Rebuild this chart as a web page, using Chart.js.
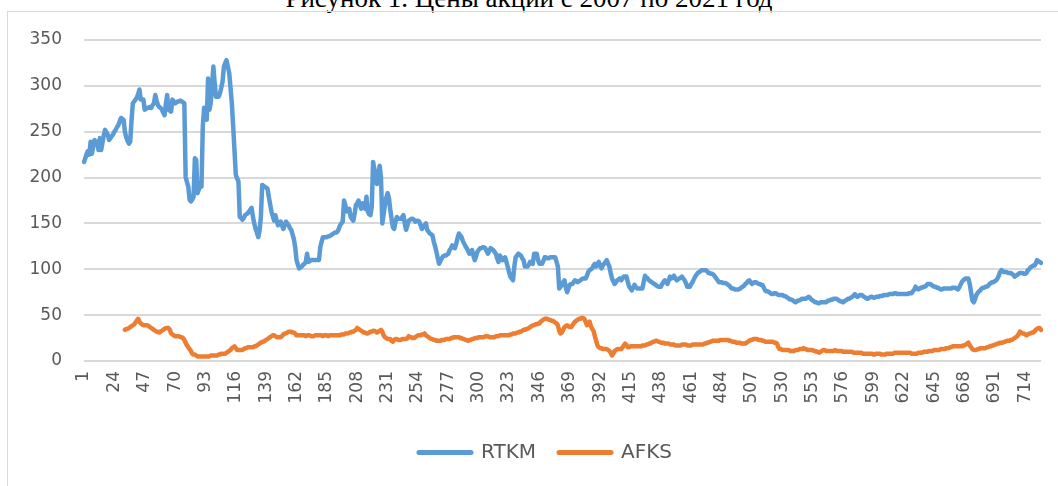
<!DOCTYPE html>
<html>
<head>
<meta charset="utf-8">
<script src="https://cdn.jsdelivr.net/npm/chart.js@4.4.1/dist/chart.umd.min.js"></script>
<style>
  html, body { margin: 0; padding: 0; background: #fff; overflow: hidden; }
  #wrap { position: relative; width: 1058px; height: 486px; overflow: hidden; }
  #frame { position: absolute; left: 7px; top: 11px; width: 1200px; height: 600px; border: 1px solid #d9d9d9; box-sizing: border-box; }
  #caption { position: absolute; left: 0; width: 1058px; top: -15px; text-align: center; font-family: "Liberation Serif", "Times New Roman", serif; font-size: 27px; line-height: 1; color: #000; white-space: nowrap; }
  #chart { position: absolute; left: 0; top: 0; }
</style>
</head>
<body>
<div id="wrap">
  <div id="caption">Рисунок 1. Цены акций с 2007 по 2021 год</div>
  <div id="frame"></div>
  <canvas id="chart" width="1058" height="486"></canvas>
</div>
<script>
var pointCount = 726;
var labelStep = 23;
var yTicks = [0, 50, 100, 150, 200, 250, 300, 350];
var seriesNames = ['RTKM', 'AFKS'];
var seriesColors = ['#5b9bd5', '#ed7d31'];

var rtkm = [
217,221,226,229,225,239,226,234,241,238,
239,230,243,230,238,246,252,249,247,241,
243,245,247,250,252,255,257,261,265,264,
263,250,244,240,237,239,262,281,283,285,
287,291,296,285,285,285,274,275,276,276,
277,276,279,281,290,284,279,277,276,274,
271,268,280,290,274,273,272,285,283,281,
282,283,283,284,283,282,281,201,195,190,
176,174,176,179,221,219,183,187,194,190,
256,276,270,263,308,274,281,300,321,303,
288,288,288,292,298,305,321,325,328,321,
314,298,281,256,230,203,199,196,157,156,
154,156,159,160,161,163,165,167,157,150,
144,140,135,142,157,192,191,190,189,188,
179,171,163,158,153,159,153,148,150,152,
148,144,148,152,150,148,145,143,138,133,
124,110,105,101,102,103,105,106,108,117,
108,109,110,110,110,110,110,110,110,124,
130,135,135,135,135,136,136,137,138,139,
140,140,141,144,148,150,152,175,170,163,
164,166,157,155,153,160,170,172,175,170,
166,172,168,166,179,163,160,159,168,217,
209,201,193,204,213,200,150,160,170,178,
183,178,165,155,146,144,152,157,155,155,
155,157,159,150,143,148,153,154,155,155,
154,152,153,153,152,148,144,146,148,150,
143,141,139,138,137,130,125,119,112,106,
109,112,114,115,115,116,117,121,123,126,
124,123,128,134,139,137,135,131,128,125,
123,120,117,119,121,115,110,114,119,121,
123,123,124,124,123,120,117,120,123,122,
121,119,117,112,108,115,113,110,111,113,
108,103,97,92,90,88,103,113,115,117,
116,115,112,110,103,103,103,105,108,107,
106,117,117,117,110,106,106,106,109,113,
113,112,112,113,113,113,113,113,108,103,
79,81,83,86,88,80,75,79,83,84,
84,86,88,87,86,87,88,89,90,90,
90,93,97,99,100,101,104,106,103,106,
108,104,101,104,106,108,110,106,103,96,
90,87,84,86,88,89,90,88,90,92,
92,92,86,81,79,77,80,83,81,79,
79,79,79,79,86,93,91,90,88,87,
86,85,84,83,82,81,81,81,84,86,
88,86,84,88,92,90,91,93,90,88,
89,90,91,92,90,88,85,81,81,81,
84,86,89,92,94,96,97,98,99,99,
99,99,98,96,96,95,95,94,92,90,
88,86,86,86,85,85,85,84,83,82,
80,79,79,78,78,78,78,79,80,81,
82,84,85,87,88,86,84,85,86,86,
85,84,84,83,83,80,77,76,76,75,
74,73,73,74,74,73,72,72,72,72,
71,71,70,69,68,67,67,66,65,64,
65,66,66,67,68,68,68,68,69,70,
69,67,66,65,64,64,63,63,64,64,
64,64,64,65,66,66,67,67,68,68,
68,67,66,65,65,64,65,66,67,68,
68,69,70,71,73,71,70,71,72,72,
71,70,69,68,68,69,70,70,69,69,
70,70,70,71,71,71,72,72,72,72,
73,73,73,73,74,74,73,73,73,73,
73,73,73,73,73,74,74,74,76,78,
81,79,78,79,80,80,81,81,82,84,
84,84,83,82,81,81,80,80,79,78,
78,79,79,79,79,79,79,79,80,80,
80,79,78,80,83,86,88,89,90,90,
90,84,75,66,64,67,72,74,76,77,
79,80,80,81,81,82,84,85,86,86,
87,88,90,93,97,99,98,97,97,97,
96,96,96,95,94,92,93,94,95,96,
96,96,95,95,96,99,100,102,103,104,
104,106,110,109,108,107
];

var afks = [
null,null,null,null,null,null,null,null,null,null,
null,null,null,null,null,null,null,null,null,null,
null,null,null,null,null,null,null,null,null,null,
null,34,35,35,36,37,38,39,40,42,
44,46,43,41,40,39,39,39,39,38,
37,36,35,34,33,32,32,31,32,33,
34,35,36,36,36,34,30,29,28,27,
27,27,27,26,26,25,23,20,17,15,
13,11,8,7,7,6,5,5,5,5,
5,5,5,5,5,5,6,6,6,6,
6,6,7,7,8,8,8,8,9,10,
11,12,14,15,16,14,12,12,12,12,
12,13,14,14,15,15,15,15,15,16,
16,17,18,19,20,21,21,22,23,24,
25,26,27,28,28,27,26,26,26,26,
27,29,30,30,31,32,32,32,31,31,
30,28,28,28,28,28,28,28,27,28,
28,28,27,27,27,28,28,28,28,28,
28,27,28,28,28,27,28,28,28,28,
28,28,28,28,28,29,29,29,30,30,
30,31,31,32,32,33,34,36,35,34,
33,32,31,31,30,30,31,32,32,33,
33,32,31,32,33,34,32,28,26,25,
24,24,24,22,21,23,24,24,23,23,
23,24,24,24,24,25,27,26,26,25,
25,26,27,28,28,28,29,29,30,28,
27,26,25,24,24,23,23,22,22,22,
22,23,23,23,24,24,24,24,25,25,
26,26,26,26,26,25,25,24,24,23,
23,22,23,23,24,24,25,25,25,26,
26,26,26,26,27,27,27,26,26,26,
26,26,27,27,27,28,28,28,28,28,
28,28,28,29,29,30,30,30,31,31,
32,32,33,34,34,35,35,36,37,38,
39,39,40,40,41,41,43,44,45,46,
46,46,45,45,44,44,43,42,41,39,
33,30,31,34,37,38,39,38,37,37,
39,41,43,44,45,46,46,47,47,46,
43,39,41,43,38,35,33,27,22,17,
15,14,14,13,13,13,13,12,11,9,
6,8,11,12,13,13,13,13,15,17,
19,17,15,15,16,16,16,16,16,16,
16,16,16,17,17,17,18,18,19,19,
20,21,21,22,22,21,21,20,20,20,
19,19,19,19,18,18,18,18,17,17,
17,17,17,18,18,18,18,17,17,17,
17,18,18,18,18,18,18,18,18,18,
19,19,20,20,21,21,22,22,22,22,
22,22,23,23,23,23,23,23,23,22,
22,21,21,21,20,20,20,20,19,19,
19,19,20,21,22,23,23,24,24,24,
24,23,23,23,22,22,21,21,21,21,
21,21,21,20,20,19,15,13,13,12,
12,12,12,12,12,11,11,11,11,12,
12,12,13,13,13,14,13,13,12,12,
12,12,12,11,11,10,10,9,10,11,
12,12,11,11,11,11,11,11,11,12,
11,11,11,11,11,10,10,10,10,10,
10,10,10,9,9,9,9,9,9,9,
8,8,8,8,8,8,8,8,7,7,
8,8,8,8,7,7,7,7,8,8,
8,8,8,8,9,9,9,9,9,9,
9,9,9,9,9,9,9,8,8,8,
8,8,9,9,9,9,10,10,10,10,
11,11,11,11,12,12,12,12,12,13,
13,13,13,14,14,14,15,15,16,16,
16,16,16,16,16,16,17,17,18,19,
20,17,15,13,12,12,12,13,13,14,
14,14,14,14,15,15,16,16,17,17,
18,18,19,19,20,20,20,21,21,22,
22,22,23,23,24,25,26,27,29,32,
31,30,30,29,28,29,30,30,31,31,
32,34,35,36,36,34
];

var labels = [];
for (var i = 1; i <= pointCount; i++) labels.push(String(i));

var tickFont = { family: "'DejaVu Sans', sans-serif", size: 17 };

// legend in the picture is not centred on the canvas
var legendShift = {
  id: 'legendShift',
  afterLayout: function(chart){
    chart.legend.left += 25;
    chart.legend.right += 25;
  }
};

var chart = new Chart(document.getElementById('chart'), {
  type: 'line',
  data: {
    labels: labels,
    datasets: [
      { label: seriesNames[0], data: rtkm, borderColor: seriesColors[0], backgroundColor: seriesColors[0], pointBorderWidth: 5 },
      { label: seriesNames[1], data: afks, borderColor: seriesColors[1], backgroundColor: seriesColors[1], pointBorderWidth: 5 }
    ]
  },
  options: {
    responsive: false,
    animation: false,
    layout: { padding: { top: 40, right: 17, bottom: 13.5, left: 0 } },
    elements: {
      point: { radius: 0, hoverRadius: 0 },
      line: { borderWidth: 4.5, tension: 0, borderCapStyle: 'round', borderJoinStyle: 'round' }
    },
    scales: {
      x: {
        grid: { display: false, drawTicks: false },
        border: { display: false },
        ticks: {
          autoSkip: false,
          minRotation: 90,
          maxRotation: 90,
          padding: 10,
          color: '#595959',
          font: tickFont,
          callback: function(v, idx){ return idx % labelStep === 0 ? labels[idx] : ''; }
        },
        afterFit: function(scale){
          scale.height = 58.5;
          scale.paddingLeft = 0;
          scale.paddingRight = 0;
        }
      },
      y: {
        min: 0,
        max: 350,
        afterBuildTicks: function(scale){ scale.ticks = yTicks.map(function(v){ return { value: v }; }); },
        grid: { color: '#d9d9d9', lineWidth: 2, drawTicks: false },
        border: { display: false },
        ticks: { padding: 22, color: '#595959', font: tickFont },
        afterFit: function(scale){ scale.width = 84; }
      }
    },
    plugins: {
      legend: {
        position: 'bottom',
        labels: {
          usePointStyle: true,
          pointStyle: 'line',
          pointStyleWidth: 52,
          boxHeight: 5,
          padding: 23,
          color: '#595959',
          font: { family: "'DejaVu Sans', sans-serif", size: 20, lineHeight: 1 },
          generateLabels: function(c){
            return Chart.defaults.plugins.legend.labels.generateLabels(c).map(function(it){
              it.lineCap = 'round';
              it.lineWidth = 5;
              return it;
            });
          }
        }
      },
      tooltip: { enabled: false }
    }
  },
  plugins: [legendShift]
});
</script>
</body>
</html>
